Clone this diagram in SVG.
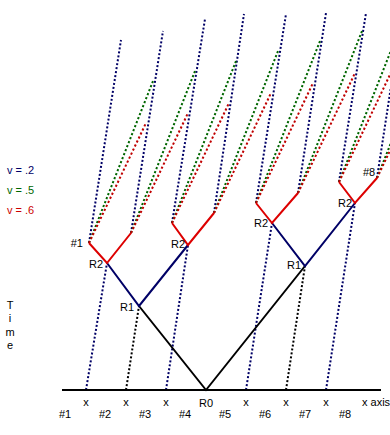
<svg xmlns="http://www.w3.org/2000/svg" width="390" height="435" viewBox="0 0 390 435">
<style>
text{font-family:"Liberation Sans",Arial,sans-serif;font-size:11px;fill:#000}
.lbl{font-size:12px}
.solid{fill:none;stroke-width:2;stroke-linejoin:miter}
.dot{fill:none;stroke-width:2}
.dn{stroke:#000066;stroke-dasharray:2 2}
.dk{stroke:#000;stroke-dasharray:2 2}
.dg{stroke:#006600;stroke-dasharray:2.15 2.15}
.dr{stroke:#c00000;stroke-dasharray:2.2 2.25}
.mid{text-anchor:middle}
.end{text-anchor:end}
</style>
<rect width="390" height="435" fill="#fff"/>
<g id="legend">
<text x="7" y="174" style="fill:#000066">v = .2</text>
<text x="7" y="194" style="fill:#006600">v = .5</text>
<text x="7" y="214" style="fill:#cc0000">v = .6</text>
</g>
<g id="time-label" class="mid">
<text x="10" y="309">T</text>
<text x="10" y="322">i</text>
<text x="10" y="336">m</text>
<text x="10" y="349">e</text>
</g>
<g id="connectors">
<g id="axis-worldlines" class="dot">
<line class="dn" x1="86" y1="390" x2="107" y2="263"/>
<line class="dk" x1="126" y1="390" x2="139" y2="306"/>
<line class="dn" x1="166" y1="390" x2="188" y2="245"/>
<line class="dn" x1="246" y1="390" x2="272" y2="223"/>
<line class="dk" x1="286" y1="390" x2="305" y2="266"/>
<line class="dn" x1="326" y1="390" x2="355" y2="203"/>
</g>
<g id="navy-worldlines" class="dot dn">
<line x1="89" y1="243" x2="121" y2="40"/>
<line x1="131" y1="233" x2="163" y2="31"/>
<line x1="172" y1="223" x2="205" y2="19"/>
<line x1="214" y1="213" x2="244" y2="14"/>
<line x1="256" y1="203" x2="286" y2="14"/>
<line x1="298" y1="193" x2="326" y2="13"/>
<line x1="339" y1="182" x2="366" y2="13"/>
<line x1="377" y1="178" x2="392" y2="80"/>
</g>
<g id="green-worldlines" class="dot dg">
<line x1="89" y1="243" x2="153" y2="81"/>
<line x1="131" y1="233" x2="195" y2="71"/>
<line x1="172" y1="223" x2="236" y2="61"/>
<line x1="214" y1="213" x2="278" y2="51"/>
<line x1="256" y1="203" x2="320" y2="41"/>
<line x1="298" y1="193" x2="362" y2="31"/>
<line x1="339" y1="182" x2="403" y2="20"/>
<line x1="377" y1="178" x2="441" y2="16"/>
</g>
<g id="red-worldlines" class="dot dr">
<line x1="89" y1="243" x2="146" y2="123"/>
<line x1="131" y1="233" x2="188" y2="113"/>
<line x1="172" y1="223" x2="229" y2="103"/>
<line x1="214" y1="213" x2="271" y2="93"/>
<line x1="256" y1="203" x2="313" y2="83"/>
<line x1="298" y1="193" x2="355" y2="73"/>
<line x1="339" y1="182" x2="396" y2="62"/>
<line x1="377" y1="178" x2="434" y2="58"/>
</g>
<g id="black-v" class="solid" stroke="#000">
<polyline points="139,306 206,390 305,266"/>
</g>
<g id="blue-v" class="solid" stroke="#000066">
<polyline points="107,263 139,306 188,245"/>
<polyline points="272,223 305,266 355,203"/>
</g>
<g id="red-v" class="solid" stroke="#dd0000">
<polyline points="89,243 107,263 131,233"/>
<polyline points="172,223 188,245 214,213"/>
<polyline points="256,203 272,223 298,193"/>
<polyline points="339,182 355,203 377,178"/>
</g>
</g>
<g id="axis">
<line x1="62" y1="390" x2="381" y2="390" stroke="#000" stroke-width="2"/>
</g>
<g id="event-labels" class="lbl">
<text x="83" y="247" class="end">#1</text>
<text x="103" y="268" class="end">R2</text>
<text x="134" y="311" class="end">R1</text>
<text x="185" y="248" class="end">R2</text>
<text x="268" y="227" class="end">R2</text>
<text x="301" y="269" class="end">R1</text>
<text x="352" y="207" class="end">R2</text>
<text x="363" y="176">#8</text>
</g>
<g id="axis-labels" class="mid">
<text x="86" y="406">x</text>
<text x="126" y="406">x</text>
<text x="166" y="406">x</text>
<text x="206" y="407">R0</text>
<text x="246" y="406">x</text>
<text x="286" y="406">x</text>
<text x="326" y="406">x</text>
<text x="362" y="406" style="text-anchor:start">x axis</text>
<text x="65" y="418">#1</text>
<text x="105" y="418">#2</text>
<text x="145" y="418">#3</text>
<text x="185" y="418">#4</text>
<text x="225" y="418">#5</text>
<text x="265" y="418">#6</text>
<text x="305" y="418">#7</text>
<text x="345" y="418">#8</text>
</g>
</svg>
